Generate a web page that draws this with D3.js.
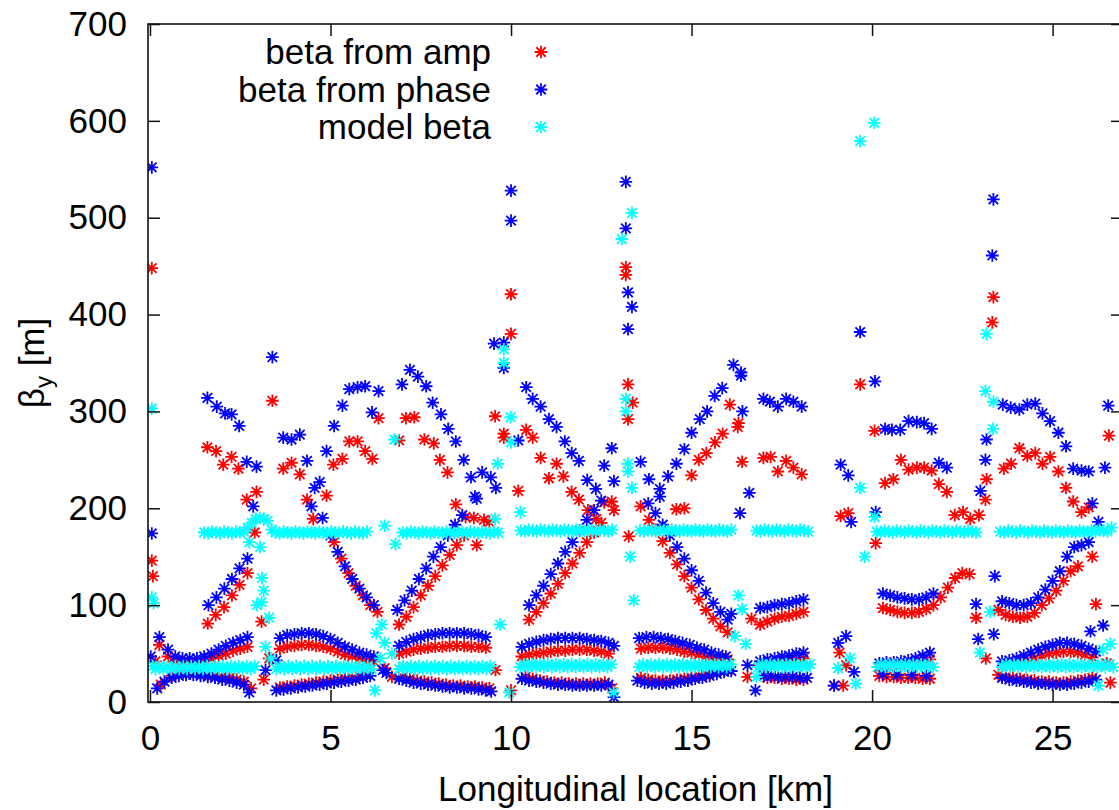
<!DOCTYPE html>
<html><head><meta charset="utf-8">
<script src="https://cdn.jsdelivr.net/npm/d3@7"></script>
<style>body{margin:0;background:#fff}</style>
</head><body><svg id="c" width="1119" height="810"></svg>
<script>
const xTicks=[0,5,10,15,20,25];
const yTicks=[0,100,200,300,400,500,600,700];
const xTitle="Longitudinal location [km]";
const seriesNames=["beta from amp","beta from phase","model beta"];
const seriesColors=["#ff0000","#0000ff","#00ffff"];

const betaAmp=[
[0.05,448],[0.05,146],[0.08,130],[0.26,59],[0.15,42],[0.3,18],
[0.5,47],[0.7,42],[0.9,41],[1.1,41],[1.3,41],[1.5,43],[1.7,45],[1.9,48],[2.1,50],[2.3,53],[2.5,55],[2.7,57],
[0.6,27],[0.8,29],[1.0,30],[1.2,30],[1.4,29],[1.6,28],[1.8,27],[2.0,26],[2.2,25],[2.4,23],[2.6,21],[2.8,14],
[1.59,263],[1.83,259],[2.03,245],[2.26,253],[2.45,241],[2.68,209],[2.95,217],
[1.6,81],[1.82,90],[2.05,98],[2.27,110],[2.48,121],[2.7,133],[2.9,175],
[3.39,311],[3.09,83],[3.15,23],[3.3,45],
[3.69,241],[3.92,247],[4.15,235],[5.08,245],[5.33,251],[5.52,269],[5.75,269],[5.96,259],[6.16,251],[6.33,293],
[4.35,209],[4.52,189],[4.89,213],[5.1,165],[5.3,148],[5.5,133],[5.7,120],[5.9,110],[6.1,100],[6.3,93],
[3.6,55],[3.8,57],[4.0,58],[4.2,59],[4.4,59],[4.6,58],[4.8,57],[5.0,55],[5.2,52],[5.4,49],[5.6,47],[5.8,45],[6.0,43],[6.2,42],
[3.6,15],[3.8,16],[4.0,17],[4.2,18],[4.4,19],[4.6,20],[4.8,21],[5.0,22],[5.2,23],[5.4,24],[5.6,25],[5.8,27],[6.0,28],
[6.9,270],[6.5,35],[6.7,26],
[7.09,293],[7.32,294],[7.6,271],[7.86,267],[8.03,250],[8.24,237],[8.47,204],[8.74,191],[8.97,190],[9.25,188],[9.4,186],[9.05,162],
[6.9,80],[7.1,88],[7.3,98],[7.5,110],[7.7,120],[7.9,130],[8.1,141],[8.3,152],[8.5,162],[8.7,172],
[6.9,50],[7.1,52],[7.3,54],[7.5,55],[7.7,56],[7.9,57],[8.1,57],[8.3,58],[8.5,58],[8.7,58],[8.9,57],[9.1,57],[9.3,56],
[7.0,26],[7.2,24],[7.4,22],[7.6,21],[7.8,20],[8.0,19],[8.2,18],[8.4,17],[8.6,17],[8.8,16],[9.0,16],[9.2,15],[9.4,14],
[10.0,421],[10.0,380],[9.56,295],[9.8,277],[9.8,273],[10.2,218],[9.57,33],[10.0,12],
[10.42,281],[10.6,273],[10.82,252],[11.05,231],[11.26,246],[11.45,233],[11.68,217],[11.88,209],[12.13,198],[12.36,189],[12.58,206],[12.79,207],[12.85,198],
[10.5,85],[10.7,93],[10.9,102],[11.1,112],[11.3,122],[11.5,133],[11.7,143],[11.9,154],[12.1,165],[12.3,175],[12.5,185],
[10.3,47],[10.5,49],[10.7,50],[10.9,51],[11.1,52],[11.3,53],[11.5,53],[11.7,54],[11.9,54],[12.1,54],[12.3,53],[12.5,52],[12.7,50],
[10.4,26],[10.6,24],[10.8,22],[11.0,21],[11.2,20],[11.4,20],[11.6,19],[11.8,19],[12.0,19],[12.2,19],[12.4,19],[12.6,20],[12.8,14],
[13.18,449],[13.18,441],[13.24,328],[13.37,309],[13.24,292],[13.26,171],
[13.59,202],[13.82,188],[14.58,199],[14.8,200],[15.0,234],[15.2,250],[15.41,257],[15.65,268],[15.86,277],[16.06,307],[16.28,284],[16.3,288],[16.4,248],
[14.0,178],[14.2,166],[14.4,154],[14.6,142],[14.8,130],[15.0,118],[15.2,106],[15.4,95],[15.6,86],[15.8,78],[16.0,72],
[13.6,55],[13.8,56],[14.0,56],[14.2,56],[14.4,55],[14.6,54],[14.8,52],[15.0,51],[15.2,49],[15.4,47],[15.6,46],[15.8,45],[16.0,44],
[13.6,25],[13.8,23],[14.0,22],[14.2,22],[14.4,22],[14.6,23],[14.8,24],[15.0,25],[15.2,27],[15.4,28],[15.6,30],[15.8,32],[16.0,33],
[16.66,86],[16.55,26],
[16.99,252],[17.19,253],[17.39,238],[17.62,249],[17.82,242],[18.05,235],
[16.9,80],[17.1,83],[17.3,86],[17.5,88],[17.7,89],[17.9,91],[18.1,93],
[16.9,38],[17.1,39],[17.3,40],[17.5,42],[17.7,43],[17.9,44],[18.1,45],
[17.1,25],[17.3,25],[17.5,24],[17.7,24],[17.9,23],[18.1,23],
[19.67,328],[20.07,280],[19.13,192],[19.34,195],[20.1,164],[19.1,51],[19.28,38],[18.95,17],[19.2,17],
[20.36,226],[20.59,230],[20.8,250],[21.01,240],[21.24,242],[21.44,242],[21.65,239],[21.85,225],[22.07,217],[22.29,193],[22.52,196],[22.72,189],[22.96,193],
[20.3,97],[20.5,95],[20.7,93],[20.9,92],[21.1,92],[21.3,93],[21.5,96],[21.7,100],[21.9,108],[22.1,118],[22.3,128],[22.5,133],[22.7,132],
[20.2,36],[20.4,37],[20.6,37],[20.8,38],[21.0,39],[21.2,40],[21.4,42],[21.6,44],
[20.2,27],[20.4,26],[20.6,26],[20.8,25],[21.0,25],[21.2,25],[21.4,24],[21.6,24],
[23.36,418],[23.33,392],[23.17,230],[23.14,209],[22.88,87],[23.15,45],
[23.65,241],[23.85,246],[24.08,262],[24.3,254],[24.52,257],[24.72,246],[24.93,253],[25.16,238],[25.37,221],[25.57,207],[25.8,196],[26.0,201],[26.56,275],
[23.5,95],[23.7,90],[23.9,88],[24.1,87],[24.3,88],[24.5,92],[24.7,100],[24.9,107],[25.1,115],[25.3,125],[25.5,135],[25.7,140],[26.1,150],
[23.7,38],[23.9,39],[24.1,41],[24.3,43],[24.5,45],[24.7,48],[24.9,50],[25.1,51],[25.3,52],[25.5,52],[25.7,51],[25.9,49],[26.1,46],
[23.5,28],[23.7,26],[23.9,25],[24.1,24],[24.3,23],[24.5,22],[24.7,21],[24.9,21],[25.1,20],[25.3,20],[25.5,21],[25.7,22],[25.9,23],[26.1,25],
[26.2,101],[26.5,40],[26.6,20]
];

const betaPhase=[
[0.05,552],[0.05,174],[0.26,67],[0.02,47],[0.2,14],
[0.5,54],[0.7,47],[0.9,45],[1.1,45],[1.3,45],[1.5,47],[1.7,50],[1.9,54],[2.1,58],[2.3,61],[2.5,64],[2.7,67],
[0.4,21],[0.6,25],[0.8,27],[1.0,28],[1.2,28],[1.4,27],[1.6,26],[1.8,25],[2.0,23],[2.2,22],[2.4,20],[2.6,18],[2.75,10],
[1.59,314],[1.85,305],[2.08,298],[2.26,297],[2.47,285],[2.68,248],[2.95,243],
[1.62,100],[1.84,108],[2.06,117],[2.27,127],[2.48,138],[2.7,148],[2.86,202],
[3.39,356],[3.2,33],[3.5,43],
[3.69,273],[3.92,271],[4.15,276],[4.35,249],[4.56,221],[4.7,227],[4.89,259],[5.1,285],[5.33,306],[5.52,323],[5.75,325],[5.96,326],[6.33,321],[6.15,299],
[4.47,202],[4.78,190],[5.0,172],[5.2,155],[5.4,140],[5.6,127],[5.8,117],[6.0,108],[6.2,100],
[3.6,66],[3.8,69],[4.0,70],[4.2,71],[4.4,71],[4.6,70],[4.8,68],[5.0,65],[5.2,61],[5.4,57],[5.6,54],[5.8,51],[6.0,49],[6.2,47],
[3.5,12],[3.7,13],[3.9,14],[4.1,15],[4.3,16],[4.5,17],[4.7,18],[4.9,19],[5.1,20],[5.3,21],[5.5,22],[5.7,23],[5.9,25],[6.1,27],
[6.45,33],[6.55,30],
[6.98,328],[7.2,343],[7.42,336],[7.65,326],[7.83,309],[8.06,297],[8.26,282],[8.47,269],[8.69,250],[8.89,232],[9.0,212],[9.05,210],[9.2,237],[9.44,232],[9.58,221],
[6.85,95],[7.05,105],[7.25,115],[7.45,127],[7.65,138],[7.85,150],[8.05,160],[8.25,172],[8.45,183],[8.65,193],
[6.9,58],[7.1,62],[7.3,65],[7.5,67],[7.7,69],[7.9,70],[8.1,71],[8.3,71],[8.5,71],[8.7,71],[8.9,70],[9.1,69],[9.3,67],
[6.9,24],[7.1,22],[7.3,20],[7.5,19],[7.7,18],[7.9,17],[8.1,16],[8.3,15],[8.5,15],[8.7,14],[8.9,14],[9.1,13],[9.3,12],[9.45,11],
[9.53,370],[9.8,371],[9.8,345],[10.0,528],[10.0,497],[10.2,270],
[10.42,325],[10.6,313],[10.82,305],[11.05,292],[11.26,284],[11.49,269],[11.68,257],[11.88,249],[12.11,229],[12.35,220],[12.58,244],[12.79,262],[12.85,228],
[10.5,100],[10.7,110],[10.9,120],[11.1,132],[11.3,143],[11.5,155],[11.7,165],[11.9,177],[12.1,188],[12.3,198],[12.5,208],
[10.3,57],[10.5,60],[10.7,62],[10.9,64],[11.1,65],[11.3,66],[11.5,66],[11.7,66],[11.9,66],[12.1,65],[12.3,64],[12.5,63],[12.7,61],[12.85,58],
[10.3,24],[10.5,22],[10.7,21],[10.9,20],[11.1,19],[11.3,18],[11.5,18],[11.7,17],[11.9,17],[12.1,17],[12.3,17],[12.5,17],[12.7,18],
[13.18,537],[13.18,489],[13.24,423],[13.35,408],[13.24,385],[12.85,5],
[13.59,248],[13.82,230],[14.12,220],[14.12,212],[14.35,233],[14.58,246],[14.8,261],[15.0,278],[15.23,292],[15.43,300],[15.64,316],[15.85,324],[16.16,348],[16.37,340],[16.37,337],[16.41,300],[16.6,216],[16.34,195],
[13.8,205],[14.0,195],[14.2,183],[14.4,172],[14.6,160],[14.8,148],[15.0,136],[15.2,125],[15.4,113],[15.6,102],[15.8,93],[16.0,85],
[13.55,66],[13.75,67],[13.95,67],[14.15,66],[14.35,65],[14.55,63],[14.75,61],[14.95,59],[15.15,56],[15.35,54],[15.55,51],[15.75,49],[15.95,47],
[13.5,22],[13.7,20],[13.9,19],[14.1,19],[14.3,19],[14.5,20],[14.7,21],[14.9,22],[15.1,24],[15.3,25],[15.5,27],[15.7,29],[15.9,31],[16.1,32],
[16.1,91],[16.77,12],[16.55,38],
[16.99,313],[17.17,310],[17.39,305],[17.62,313],[17.82,310],[18.05,305],
[16.9,97],[17.1,98],[17.3,100],[17.5,101],[17.7,102],[17.9,104],[18.1,106],
[16.9,42],[17.1,44],[17.3,45],[17.5,47],[17.7,48],[17.9,50],[18.1,51],
[17.0,27],[17.2,27],[17.4,26],[17.6,26],[17.8,26],[18.0,25],[18.2,25],
[19.67,382],[20.08,331],[19.13,245],[19.34,234],[19.42,186],[20.1,196],[19.06,61],[19.28,68],[18.95,17],[19.5,31],
[20.36,282],[20.55,281],[20.78,281],[21.01,290],[21.24,289],[21.44,288],[21.65,282],[21.85,247],[22.07,242],
[20.3,112],[20.5,110],[20.7,108],[20.9,107],[21.1,106],[21.3,106],[21.5,108],[21.7,112],
[20.2,40],[20.4,41],[20.6,41],[20.8,42],[21.0,43],[21.2,45],[21.4,48],[21.6,51],
[20.3,29],[20.7,28],[21.1,28],[21.5,27],
[23.36,519],[23.33,461],[23.17,271],[23.14,250],[23.0,218],[22.88,101],[22.94,65],[23.37,70],
[23.62,307],[23.84,304],[24.08,302],[24.3,307],[24.52,308],[24.72,298],[24.93,290],[25.16,278],[25.37,264],[25.57,241],[25.8,239],[26.0,238],[26.1,205],[26.27,186],[26.54,306],[26.45,242],
[23.4,130],[23.6,104],[23.8,102],[24.0,100],[24.2,100],[24.4,102],[24.6,108],[24.8,116],[25.0,125],[25.2,135],[25.4,150],[25.6,160],[25.8,162],[26.0,165],
[23.6,42],[23.8,43],[24.0,45],[24.2,48],[24.4,51],[24.6,54],[24.8,57],[25.0,59],[25.2,61],[25.4,61],[25.6,60],[25.8,58],[26.0,55],[26.2,52],
[23.6,25],[23.8,23],[24.0,22],[24.2,21],[24.4,20],[24.6,19],[24.8,19],[25.0,18],[25.2,18],[25.4,18],[25.6,19],[25.8,20],[26.0,21],[26.2,23],
[26.05,73],[26.4,79]
];

const betaModel=[
[0.05,303],[0.05,108],[0.1,102],[0.08,37],
[1.50,175],[1.61,174],[1.72,176],[1.83,175],[1.94,174],[2.05,176],[2.16,175],[2.27,174],[2.38,176],[2.49,175],[2.60,176],[2.71,180],[2.82,185],[2.93,189],[3.04,190],[3.15,189],[3.26,187],[3.37,178],[3.48,175],[3.59,174],[3.70,176],[3.81,175],[3.92,174],[4.03,176],[4.14,175],[4.25,174],[4.36,176],[4.47,175],[4.58,174],[4.69,176],[4.80,175],[4.91,174],[5.02,176],[5.13,175],[5.24,174],[5.35,176],[5.46,175],[5.57,174],[5.68,176],[5.79,175],[5.90,174],[6.01,176],
[7.00,175],[7.11,174],[7.22,176],[7.33,175],[7.44,174],[7.55,176],[7.66,175],[7.77,174],[7.88,176],[7.99,175],[8.10,174],[8.21,176],[8.32,175],[8.43,174],[8.54,176],[8.65,175],[8.76,174],[8.87,176],[8.98,175],[9.09,174],[9.20,176],[9.31,175],[9.42,174],[9.53,176],[9.64,175],
[10.27,177],[10.38,176],[10.49,178],[10.60,177],[10.71,176],[10.82,178],[10.93,177],[11.04,176],[11.15,178],[11.26,177],[11.37,176],[11.48,178],[11.59,177],[11.70,176],[11.81,178],[11.92,177],[12.03,176],[12.14,178],[12.25,177],[12.36,176],[12.47,178],[12.58,177],[12.69,176],[12.80,178],
[13.57,177],[13.68,176],[13.79,178],[13.90,177],[14.01,176],[14.12,178],[14.23,177],[14.34,176],[14.45,178],[14.56,177],[14.67,176],[14.78,178],[14.89,177],[15.00,176],[15.11,178],[15.22,177],[15.33,176],[15.44,178],[15.55,177],[15.66,176],[15.77,178],[15.88,177],[15.99,176],[16.10,178],
[16.80,177],[16.91,176],[17.02,178],[17.13,177],[17.24,176],[17.35,178],[17.46,177],[17.57,176],[17.68,178],[17.79,177],[17.90,176],[18.01,178],[18.12,177],[18.23,176],
[20.13,176],[20.24,175],[20.35,177],[20.46,176],[20.57,175],[20.68,177],[20.79,176],[20.90,175],[21.01,177],[21.12,176],[21.23,175],[21.34,177],[21.45,176],[21.56,175],[21.67,177],[21.78,176],[21.89,175],[22.00,177],[22.11,176],[22.22,175],[22.33,177],[22.44,176],[22.55,175],[22.66,177],[22.77,176],[22.88,175],
[23.55,176],[23.66,175],[23.77,177],[23.88,176],[23.99,175],[24.10,177],[24.21,176],[24.32,175],[24.43,177],[24.54,176],[24.65,175],[24.76,177],[24.87,176],[24.98,175],[25.09,177],[25.20,176],[25.31,175],[25.42,177],[25.53,176],[25.64,175],[25.75,177],[25.86,176],[25.97,175],[26.08,177],[26.19,176],[26.30,178],[26.41,177],[26.52,176],[26.63,180],
[0.15,34],[0.26,37],[0.37,34],[0.48,37],[0.59,34],[0.70,37],[0.81,34],[0.92,37],[1.03,34],[1.14,37],[1.25,34],[1.36,37],[1.47,34],[1.58,37],[1.69,34],[1.80,37],[1.91,34],[2.02,37],[2.13,34],[2.24,37],[2.35,34],[2.46,37],[2.57,34],[2.68,37],[2.79,34],[2.90,37],
[3.50,34],[3.61,37],[3.72,34],[3.83,37],[3.94,34],[4.05,37],[4.16,34],[4.27,37],[4.38,34],[4.49,37],[4.60,34],[4.71,37],[4.82,34],[4.93,37],[5.04,34],[5.15,37],[5.26,34],[5.37,37],[5.48,34],[5.59,37],[5.70,34],[5.81,37],[5.92,34],[6.03,37],[6.14,34],
[6.90,34],[7.01,37],[7.12,34],[7.23,37],[7.34,34],[7.45,37],[7.56,34],[7.67,37],[7.78,34],[7.89,37],[8.00,34],[8.11,37],[8.22,34],[8.33,37],[8.44,34],[8.55,37],[8.66,34],[8.77,37],[8.88,34],[8.99,37],[9.10,34],[9.21,37],[9.32,34],[9.43,37],
[10.25,36],[10.36,39],[10.47,36],[10.58,39],[10.69,36],[10.80,39],[10.91,36],[11.02,39],[11.13,36],[11.24,39],[11.35,36],[11.46,39],[11.57,36],[11.68,39],[11.79,36],[11.90,39],[12.01,36],[12.12,39],[12.23,36],[12.34,39],[12.45,36],[12.56,39],[12.67,36],[12.78,39],
[13.55,36],[13.66,39],[13.77,36],[13.88,39],[13.99,36],[14.10,39],[14.21,36],[14.32,39],[14.43,36],[14.54,39],[14.65,36],[14.76,39],[14.87,36],[14.98,39],[15.09,36],[15.20,39],[15.31,36],[15.42,39],[15.53,36],[15.64,39],[15.75,36],[15.86,39],[15.97,36],[16.08,39],
[16.85,36],[16.96,39],[17.07,36],[17.18,39],[17.29,36],[17.40,39],[17.51,36],[17.62,39],[17.73,36],[17.84,39],[17.95,36],[18.06,39],[18.17,36],[18.28,39],
[20.15,36],[20.26,39],[20.37,36],[20.48,39],[20.59,36],[20.70,39],[20.81,36],[20.92,39],[21.03,36],[21.14,39],[21.25,36],[21.36,39],[21.47,36],[21.58,39],[21.69,36],
[23.60,36],[23.71,39],[23.82,36],[23.93,39],[24.04,36],[24.15,39],[24.26,36],[24.37,39],[24.48,36],[24.59,39],[24.70,36],[24.81,39],[24.92,36],[25.03,39],[25.14,36],[25.25,39],[25.36,36],[25.47,39],[25.58,36],[25.69,39],[25.80,36],[25.91,39],[26.02,36],[26.13,39],[26.24,36],[26.35,39],[26.46,36],[26.57,39],[26.68,36],
[2.75,165],[3.05,160],[2.96,100],[3.09,103],[3.1,128],[3.15,115],[3.3,87],[3.2,57],[3.35,45],
[6.5,182],[6.8,163],[6.77,271],[6.23,12],[6.27,71],[6.5,61],[6.7,50],[6.38,45],[6.42,80],
[9.8,364],[9.8,350],[9.99,294],[10.0,268],[9.63,246],[10.26,196],[9.56,189],[9.95,10],[9.7,80],
[13.35,505],[13.07,478],[13.18,313],[13.18,300],[13.24,246],[13.24,238],[13.35,221],[12.84,10],[13.3,150],[13.4,105],
[16.2,68],[16.4,96],[16.8,26],[16.3,110],[16.5,60],
[20.06,598],[19.67,579],[19.67,221],[20.07,191],[19.06,35],[19.39,45],[19.55,19],[19.8,150],
[23.17,380],[23.14,321],[23.36,310],[23.35,282],[23.27,93],[22.99,51],
[26.4,54],[26.27,17],[26.6,60]
];

const W=1119,H=810;
const L=148,R=1123,T=24,B=702;
const x=d3.scaleLinear().domain([-0.055,26.95]).range([L,R]);
const y=d3.scaleLinear().domain([0,700]).range([B,T]);
const FONT='"Liberation Sans",Arial,Helvetica,sans-serif';
const svg=d3.select("#c");
svg.append("rect").attr("width",W).attr("height",H).attr("fill","#fff");
svg.append("defs").append("clipPath").attr("id","clip").append("rect")
  .attr("x",L).attr("y",T).attr("width",R-L).attr("height",B-T);

const star={draw(c,s){const r=Math.sqrt(s)/2,d=r*0.75;
  c.moveTo(-r,0);c.lineTo(r,0);c.moveTo(0,-r);c.lineTo(0,r);
  c.moveTo(-d,-d);c.lineTo(d,d);c.moveTo(-d,d);c.lineTo(d,-d);}};
const sym=d3.symbol().type(star).size(160);

const series=[betaAmp,betaPhase,betaModel];
const plot=svg.append("g").attr("clip-path","url(#clip)");
series.forEach((data,i)=>{
  plot.append("g").selectAll("path").data(data).join("path")
    .attr("d",sym)
    .attr("transform",d=>`translate(${x(d[0])},${y(d[1])})`)
    .attr("fill","none").attr("stroke",seriesColors[i]).attr("stroke-width",1.8);
});

function styleAxis(g,labels){
  g.select(".domain").remove();
  g.selectAll("line").attr("stroke","#111").attr("stroke-width",1.5);
  g.selectAll("text").attr("font-family",FONT).attr("font-size",35).attr("fill","#000");
  if(!labels) g.selectAll("text").remove();
}
svg.append("g").attr("transform",`translate(0,${B})`)
  .call(d3.axisBottom(x).tickValues(xTicks).tickSizeInner(-12).tickSizeOuter(0).tickPadding(23).tickFormat(d3.format("d")))
  .call(g=>styleAxis(g,true));
svg.append("g").attr("transform",`translate(0,${T})`)
  .call(d3.axisTop(x).tickValues(xTicks).tickSizeInner(-12).tickSizeOuter(0))
  .call(g=>styleAxis(g,false));
svg.append("g").attr("transform",`translate(${L},0)`)
  .call(d3.axisLeft(y).tickValues(yTicks).tickSizeInner(-12).tickSizeOuter(0).tickPadding(21).tickFormat(d3.format("d")))
  .call(g=>styleAxis(g,true));
svg.append("g").attr("transform",`translate(${R},0)`)
  .call(d3.axisRight(y).tickValues(yTicks).tickSizeInner(-12).tickSizeOuter(0))
  .call(g=>styleAxis(g,false));
svg.append("rect").attr("x",L).attr("y",T).attr("width",R-L).attr("height",B-T)
  .attr("fill","none").attr("stroke","#111").attr("stroke-width",1.6);

svg.append("text").attr("x",(L+R)/2).attr("y",801).attr("text-anchor","middle")
  .attr("font-family",FONT).attr("font-size",35).text(xTitle);
const yl=svg.append("text").attr("transform","translate(44,363) rotate(-90)").attr("text-anchor","middle")
  .attr("font-family",FONT).attr("font-size",35);
yl.append("tspan").text("β");
yl.append("tspan").attr("font-size",24).attr("dy",8).text("y");
yl.append("tspan").attr("dy",-8).text(" [m]");

const leg=svg.append("g");
seriesNames.forEach((n,i)=>{
  const yy=52+i*37.5;
  leg.append("text").attr("x",491).attr("y",yy).attr("dy","0.35em").attr("text-anchor","end")
    .attr("font-family",FONT).attr("font-size",35).text(n);
  leg.append("path").attr("d",sym).attr("transform",`translate(541,${yy})`)
    .attr("fill","none").attr("stroke",seriesColors[i]).attr("stroke-width",1.8);
});
</script></body></html>
